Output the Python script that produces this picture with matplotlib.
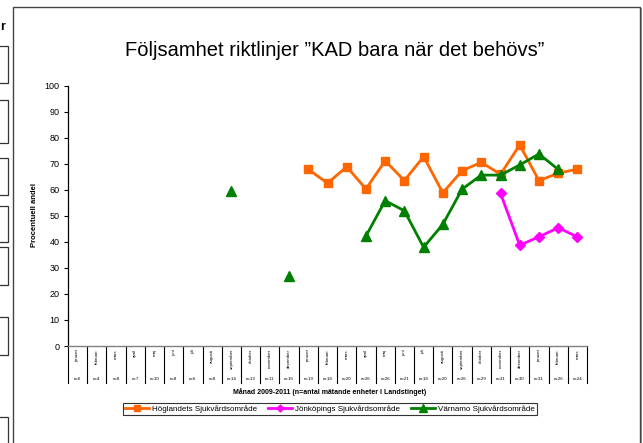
import matplotlib
matplotlib.use("Agg")
import matplotlib.pyplot as plt
import numpy as np
from matplotlib.patches import Rectangle
import matplotlib.transforms as mtransforms

plt.rcParams['font.family'] = ['Liberation Sans', 'DejaVu Sans']

title = "Följsamhet riktlinjer ”KAD bara när det behövs”"
months = ['januari', 'februari', 'mars', 'april', 'maj', 'juni', 'juli', 'augusti',
          'september', 'oktober', 'november', 'december',
          'januari', 'februari', 'mars', 'april', 'maj', 'juni', 'juli', 'augusti',
          'september', 'oktober', 'november', 'december',
          'januari', 'februari', 'mars']
n_values = [6, 4, 8, 7, 10, 8, 6, 8, 14, 13, 11, 16, 19, 18, 20, 26, 26, 21, 18, 20,
            26, 29, 31, 30, 31, 26, 24]
hoglandet = [None] * 12 + [67.8, 62.5, 68.8, 60.3, 71.1, 63.5, 72.7, 58.8, 67.3, 70.5,
                           65.9, 77.2, 63.5, 66.3, 67.9]
jonkoping = [None] * 22 + [58.6, 38.7, 41.9, 45.4, 41.9]
varnamo = [None] * 8 + [59.5, None, None, 26.9, None, None, None, 42.2, 55.8, 51.9,
                        37.9, 46.7, 60.2, 65.6, 65.6, 69.5, 73.7, 67.8, None]
series_names = ['Höglandets Sjukvårdsområde', 'Jönköpings Sjukvårdsområde',
                'Värnamo Sjukvårdsområde']
ylabel = 'Procentuell andel'
xlabel = 'Månad 2009-2011 (n=antal mätande enheter i Landstinget)'

W, H = 643, 443
fig = plt.figure(figsize=(W / 100, H / 100), dpi=100)


def fx(px):
    return px / W


def fy(py):
    return 1 - py / H


# outer frame
fig.patches.append(Rectangle((fx(13), fy(460)), fx(640) - fx(13), fy(7) - fy(460),
                             transform=fig.transFigure, fill=False,
                             edgecolor='#444444', linewidth=1.0))
fig.patches.append(Rectangle((fx(641), fy(460)), fx(1.2), fy(8) - fy(460),
                             transform=fig.transFigure, facecolor='#888888',
                             edgecolor='none'))
# left artefacts
for (t, b) in [(46, 83), (100, 143), (158, 195), (206, 242), (247, 285), (317, 355), (417, 450)]:
    fig.patches.append(Rectangle((fx(-2), fy(b)), fx(10), fy(t) - fy(b),
                                 transform=fig.transFigure, fill=False,
                                 edgecolor='#333333', linewidth=0.9))
fig.text(fx(0), fy(27), 'r', fontsize=9, fontweight='bold', ha='left', va='center')

ax = fig.add_axes([fx(68), fy(346), fx(587) - fx(68), fy(85.5) - fy(346)])
ax.set_xlim(0, len(months))
ax.set_ylim(0, 100)
ax.set_yticks(np.arange(0, 101, 10))
ax.tick_params(axis='y', labelsize=6.5, length=3, width=0.8, pad=3)
ax.set_xticks([])
ax.spines['top'].set_visible(False)
ax.spines['right'].set_visible(False)
ax.spines['left'].set_linewidth(0.9)
ax.spines['bottom'].set_color('#808080')
ax.spines['bottom'].set_linewidth(1.0)

x = np.arange(len(months)) + 0.5


def arr(v):
    return np.array([np.nan if a is None else a for a in v], dtype=float)


ax.plot(x, arr(hoglandet), color='#FF6600', lw=2.0, marker='s', ms=6.3, mec='#FF6600',
        label=series_names[0], clip_on=False)
ax.plot(x, arr(jonkoping), color='#FF00FF', lw=2.0, marker='D', ms=5, mec='#FF00FF',
        label=series_names[1], clip_on=False)
ax.plot(x, arr(varnamo), color='#008000', lw=2.0, marker='^', ms=7.3, mec='#008000',
        label=series_names[2], clip_on=False)

# table under the axis
trans = mtransforms.blended_transform_factory(ax.transData, ax.transAxes)
ybot = (346 - 383) / (346 - 85.5)
for i in range(len(months) + 1):
    ax.plot([i, i], [0, ybot], transform=trans, color='black', lw=0.8, clip_on=False)
ymonth = (346 - 349) / (346 - 85.5)
yn = (346 - 379.5) / (346 - 85.5)
for i, (m, n) in enumerate(zip(months, n_values)):
    ax.text(i + 0.5, ymonth, m, transform=trans, rotation=90, fontsize=3.2,
            ha='center', va='top')
    ax.text(i + 0.5, yn, f'n={n}', transform=trans, fontsize=3.2, ha='center',
            va='center')

fig.text(fx(330), fy(392), xlabel, fontsize=5, fontweight='bold', ha='center',
         va='center')
fig.text(fx(35), fy(215), ylabel, fontsize=5.5, fontweight='bold', ha='center',
         va='center', rotation=90)
fig.text(fx(335), fy(50), title, fontsize=14.5, ha='center', va='center')

leg = fig.legend(loc='center', bbox_to_anchor=(fx(330), fy(409)), ncol=3,
                 fontsize=5.8, frameon=True, fancybox=False, edgecolor='black',
                 borderpad=0.25, handlelength=3.0, handletextpad=0.4,
                 columnspacing=1.3, markerscale=0.7)
leg.get_frame().set_linewidth(0.8)

fig.savefig('out.png', dpi=100)
